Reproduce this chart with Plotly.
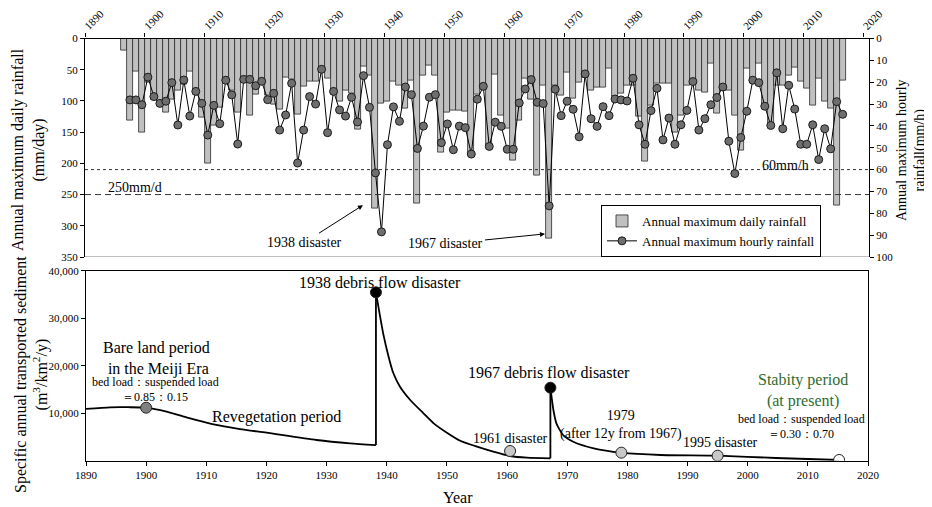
import plotly.graph_objects as go

# page body keeps an 8px margin; the figure is sized to fit the 932x507 window
OFF = 8
W, H = 932 - OFF, 507 - OFF
FONT = "Liberation Serif, Times New Roman, serif"

# ---------------- data: upper panel ----------------
bar_years = list(range(1896, 2017))
daily_max = [
    20, 132, 53, 151, 70, 97, 108, 118, 97, 84,      # 1896-1905
    73, 53, 81, 126, 201, 140, 110, 65, 84, 118,     # 1906-1915
    65, 124, 90, 65, 92, 105, 114, 62, 65, 121,      # 1916-1925
    77, 69, 69, 53, 64, 83, 101, 83, 88, 145,        # 1926-1935
    45, 59, 272, 104, 101, 69, 75, 112, 67, 264,     # 1936-1945
    59, 44, 59, 182, 118, 115, 116, 117, 187, 90,    # 1946-1955
    73, 172, 57, 124, 144, 196, 131, 64, 97, 220,    # 1956-1965
    75, 320, 75, 91, 55, 96, 70, 62, 83, 78,         # 1966-1975
    78, 48, 93, 88, 75, 75, 125, 197, 107, 72,       # 1976-1985
    72, 72, 150, 123, 75, 70, 83, 87, 40, 120,       # 1986-1995
    83, 83, 123, 180, 48, 69, 40, 109, 139, 75,      # 1996-2005
    75, 59, 47, 69, 80, 107, 64, 101, 112, 268,      # 2006-2015
    68,                                              # 2016
]
hour_years = list(range(1897, 2017))
hourly_max = [
    28.1, 28.1, 30.3, 17.7, 26.6, 29.7, 28.7, 20.2, 39.6, 19.0,   # 1897-1906
    35.5, 24.2, 29.7, 44.2, 30.6, 39.0, 19.1, 25.8, 48.3, 18.7,   # 1907-1916
    18.7, 21.6, 19.6, 28.0, 25.1, 41.9, 35.0, 20.5, 57.0, 41.9,   # 1917-1926
    26.6, 30.0, 14.1, 43.1, 24.2, 32.7, 35.5, 26.9, 38.2, 17.0,   # 1927-1936
    31.5, 61.5, 88.5, 48.6, 31.3, 37.9, 22.2, 25.7, 50.3, 40.1,   # 1937-1946
    26.9, 25.7, 47.7, 39.1, 50.9, 40.1, 40.8, 52.9, 27.8, 21.9,   # 1947-1956
    49.4, 38.3, 40.2, 50.7, 50.7, 29.5, 23.1, 18.8, 29.2, 29.8,   # 1957-1966
    76.6, 23.2, 35.3, 28.7, 32.4, 45.0, 16.2, 36.7, 40.2, 31.2,   # 1967-1976
    35.3, 27.7, 28.1, 28.6, 18.2, 39.5, 48.4, 33.0, 22.8, 46.4,   # 1977-1986
    36.4, 48.4, 39.5, 32.9, 19.7, 41.9, 36.7, 30.3, 27.0, 22.2,   # 1987-1996
    47.0, 61.8, 45.3, 33.3, 19.1, 20.2, 31.0, 39.8, 15.7, 41.3,   # 1997-2006
    21.4, 32.3, 48.4, 48.4, 39.5, 55.4, 41.3, 50.5, 28.9, 34.7,   # 2007-2016
]
decade_ticks = list(range(1890, 2021, 10))
daily_ticks = list(range(0, 351, 50))
hourly_ticks = list(range(0, 101, 10))
threshold_daily = 250     # mm/d
threshold_hourly = 60     # mm/h

# ---------------- data: lower panel ----------------
seg1_years = [1890, 1894, 1897, 1900, 1903.4, 1906.7, 1911, 1915.6, 1920, 1928.3, 1933.9, 1938.2]
seg1_vals = [10900, 11240, 11260, 11160, 10320, 9130, 7720, 6670, 5900, 4360, 3660, 3300]
jump1_years = [1938.2, 1938.2]
jump1_vals = [3300, 35450]
seg2_years = [1938.2, 1938.9, 1939.4, 1940.3, 1941.1, 1942.2, 1943.9, 1946.1, 1947.8, 1950,
              1952.2, 1955, 1957.7, 1960.5, 1963.3, 1967.2]
seg2_vals = [35450, 30300, 26800, 21900, 18400, 15580, 12780, 9980, 7870, 5900,
             4210, 2950, 1900, 990, 630, 500]
jump2_years = [1967.2, 1967.2]
jump2_vals = [500, 15370]
seg3_years = [1967.2, 1967.7, 1968.2, 1969.3, 1971, 1974.4, 1979, 1985.5, 1995, 2004.7, 2015.2]
seg3_vals = [15370, 10670, 7870, 5410, 4000, 2610, 1690, 1200, 1050, 570, 150]

event_years = [1900, 1938.2, 1960.5, 1967.2, 1979, 1995, 2015.2]
event_vals = [11160, 35450, 2040, 15370, 1690, 1050, 150]
event_colors = ["#808080", "#000000", "#c8c8c8", "#000000", "#c8c8c8", "#c8c8c8", "#ffffff"]
sed_ticks = [10000, 20000, 30000, 40000]
sed_tick_text = ["10,000", "20,000", "30,000", "40,000"]

# ---------------- layout helpers (window pixels -> paper fractions) ----------------
def px_x(p):
    return (p - OFF) / W

def px_y(p):
    return 1 - (p - OFF) / H

fig = go.Figure()

fig.add_trace(go.Bar(
    x=bar_years, y=daily_max, width=1, offset=0,
    marker=dict(color="#c0c0c0", line=dict(color="#2a2a2a", width=0.8)),
    name="Annual maximum daily rainfall", xaxis="x", yaxis="y",
))
fig.add_trace(go.Scatter(
    x=[y + 0.5 for y in hour_years], y=hourly_max, mode="lines+markers",
    line=dict(color="black", width=1),
    marker=dict(size=8, color="#6e6e6e", line=dict(color="#1a1a1a", width=1)),
    name="Annual maximum hourly rainfall", xaxis="x", yaxis="y2",
))

for xs, ys, shp in [(seg1_years, seg1_vals, "spline"), (jump1_years, jump1_vals, "linear"),
                    (seg2_years, seg2_vals, "spline"), (jump2_years, jump2_vals, "linear"),
                    (seg3_years, seg3_vals, "spline")]:
    fig.add_trace(go.Scatter(
        x=xs, y=ys, mode="lines", line=dict(color="black", width=1.8, shape=shp, smoothing=0.6),
        xaxis="x2", yaxis="y3", showlegend=False, hoverinfo="skip",
    ))
fig.add_trace(go.Scatter(
    x=event_years, y=event_vals, mode="markers",
    marker=dict(size=11, color=event_colors, line=dict(color="#222", width=1)),
    xaxis="x2", yaxis="y3", showlegend=False,
))

axis_common = dict(showgrid=False, zeroline=False, showline=True, linecolor="black",
                   linewidth=1.2, ticks="outside", ticklen=4, tickcolor="black",
                   automargin=False,
                   tickfont=dict(size=11, family=FONT, color="black"))

fig.update_layout(
    width=W, height=H,
    margin=dict(l=0, r=0, t=0, b=0, autoexpand=False),
    paper_bgcolor="white", plot_bgcolor="white",
    font=dict(family=FONT, color="black"),
    bargap=0,
    xaxis=dict(domain=[px_x(85), px_x(869)], range=[1890, 2020.9], side="top", anchor="y",
               tickvals=decade_ticks, tickangle=-45, ticklabelstandoff=-3, **axis_common),
    yaxis=dict(domain=[px_y(257), px_y(38.5)], range=[350, 0], tickvals=daily_ticks,
               anchor="x", **axis_common),
    yaxis2=dict(domain=[px_y(257), px_y(38.5)], range=[100, 0], tickvals=hourly_ticks,
                overlaying="y", side="right", anchor="x", **axis_common),
    xaxis2=dict(domain=[px_x(86), px_x(868)], range=[1890, 2020], anchor="y3",
                tickvals=decade_ticks, mirror=True, **axis_common),
    yaxis3=dict(domain=[px_y(460.7), px_y(270.7)], range=[0, 40000], anchor="x2",
                tickvals=sed_ticks, ticktext=sed_tick_text, mirror=True, **axis_common),
    legend=dict(x=px_x(601), y=px_y(205), xanchor="left", yanchor="top",
                bgcolor="white", bordercolor="black", borderwidth=1,
                font=dict(size=13, family=FONT, color="black"), itemwidth=30,
                tracegroupgap=0),
)

# reference lines and panel bottom
fig.add_shape(type="line", xref="x", yref="y", x0=1890, x1=2020.9,
              y0=threshold_daily, y1=threshold_daily,
              line=dict(color="#333", width=1, dash="6px,4px"))
fig.add_shape(type="line", xref="x", yref="y2", x0=1890, x1=2020.9,
              y0=threshold_hourly, y1=threshold_hourly,
              line=dict(color="#333", width=1, dash="3px,3px"))
fig.add_shape(type="line", xref="x", yref="y", x0=1890, x1=2020.9, y0=350, y1=350,
              line=dict(color="#a8a8a8", width=1.5))

ann = []
def text(x, y, s, size=15, xref="x2", yref="y3", color="black"):
    ann.append(dict(x=x, y=y, xref=xref, yref=yref, text=s, showarrow=False,
                    xanchor="center", yanchor="middle",
                    font=dict(size=size, family=FONT, color=color)))

# upper panel texts
text(1898.3, 238, "250mm/d", 14, "x", "y")
text(2006.9, 203, "60mm/h", 14, "x", "y")
# disaster labels with arrows pointing at the disaster-year bars
ann.append(dict(x=1936.4, y=267, xref="x", yref="y", text="1938 disaster", showarrow=True,
                ax=-58, ay=37, arrowhead=2, arrowsize=1, arrowwidth=1, arrowcolor="black",
                font=dict(size=14, family=FONT, color="black")))
ann.append(dict(x=1966.8, y=313, xref="x", yref="y", text="1967 disaster", showarrow=True,
                ax=-99, ay=10, arrowhead=2, arrowsize=1, arrowwidth=1, arrowcolor="black",
                font=dict(size=14, family=FONT, color="black")))

# lower panel texts
text(1938.9, 37550, "1938 debris flow disaster", 16)
text(1901.75, 21470, "Bare land period<br> in the Meiji Era", 16)
text(1901.5, 16500, "bed load：suspended load", 12)
text(1901.5, 13470, "＝0.85：0.15", 12)
text(1921.6, 9260, "Revegetation period", 16)
text(1960.5, 4715, "1961 disaster", 14)
text(1967.0, 18600, "1967 debris flow disaster", 16)
text(1978.9, 7450, "1979<br>(after 12y from 1967)", 14)
text(1995.4, 3790, "1995 disaster", 14)
text(2009.2, 14880, "Stabity period<br>(at present)", 16, color="#2f6b2f")
text(2008.9, 8715, "bed load：suspended load", 12)
text(2008.9, 5620, "＝0.30：0.70", 12)

# axis titles
def ptext(x, y, s, size=16, angle=-90):
    ann.append(dict(x=px_x(x), y=px_y(y), xref="paper", yref="paper", text=s,
                    showarrow=False, textangle=angle, xanchor="center", yanchor="middle",
                    font=dict(size=size, family=FONT, color="black")))

ptext(28, 150, "Annual maximum daily rainfall<br>(mm/day)")
ptext(911, 150, "Annual maximum hourly<br>rainfall(mm/h)", 14)
ptext(31, 375, "Specific annual transported sediment<br>(m<sup>3</sup>/km<sup>2</sup>/y)")
ptext(458, 497, "Year", 16, 0)

fig.update_layout(annotations=ann)
fig.write_html("out.html")
